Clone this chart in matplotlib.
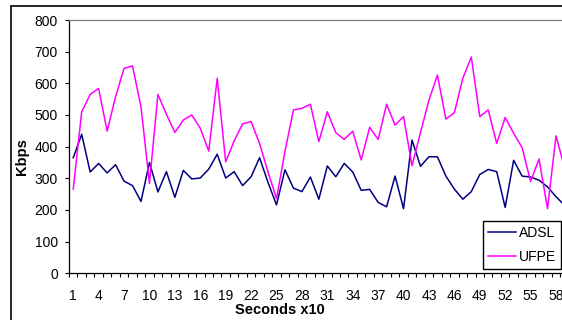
import numpy as np
import matplotlib
matplotlib.use("Agg")
import matplotlib.pyplot as plt
from matplotlib.patches import Rectangle
from matplotlib.ticker import FixedLocator

# Throughput samples, one every 10 seconds
seconds = list(range(1, 60))
adsl = [365, 439, 320, 347, 317, 343, 291, 277, 227, 350,
        257, 321, 240, 325, 298, 301, 329, 376, 301, 321,
        277, 305, 365, 287, 216, 327, 269, 258, 304, 234,
        339, 305, 347, 320, 262, 265, 224, 210, 307, 204,
        421, 338, 368, 368, 307, 266, 234, 258, 312, 328,
        321, 208, 357, 307, 304, 294, 273, 242, 215]
ufpe = [266, 510, 565, 584, 449, 558, 647, 655, 526, 284,
        565, 502, 445, 484, 500, 458, 386, 616, 352, 418,
        472, 479, 410, 320, 236, 385, 516, 521, 534, 416,
        510, 444, 423, 449, 358, 461, 423, 534, 468, 495,
        340, 444, 547, 626, 487, 507, 616, 683, 495, 516,
        410, 492, 442, 397, 290, 361, 204, 434, 335]
x_tick_values = list(range(1, 59, 3))
x_tick_labels = [str(v) for v in x_tick_values]
y_ticks = list(range(0, 801, 100))
series_names = ["ADSL", "UFPE"]
series_colors = ["#000080", "#FF00FF"]

plt.rcParams['font.family'] = ['Liberation Sans', 'DejaVu Sans']

W, H = 562, 320
fig = plt.figure(figsize=(W / 100, H / 100), dpi=100)
fig.patch.set_facecolor("white")

# plot area (extends slightly past the right edge of the canvas)
ax = fig.add_axes([69 / W, (H - 273.3) / H, 499.7 / W, 253.3 / H])
lines = []
for vals, name, col in zip([adsl, ufpe], series_names, series_colors):
    ln, = ax.plot(seconds, vals, color=col, lw=1.1, label=name)
    lines.append(ln)

ax.set_xlim(0.5, 59.5)
ax.set_ylim(0, 800)
ax.set_yticks(y_ticks)
ax.set_xticks(x_tick_values)
ax.set_xticklabels(x_tick_labels)
ax.xaxis.set_minor_locator(FixedLocator(np.arange(0.5, 60, 1)))
ax.tick_params(axis='x', which='major', length=0, pad=11.5, labelsize=10)
ax.tick_params(axis='x', which='minor', length=3, width=0.8, direction='out', color='black')
ax.tick_params(axis='y', length=3, width=0.8, pad=5, labelsize=10, color='black')

ax.spines['left'].set_color('black')
ax.spines['bottom'].set_color('black')
ax.spines['top'].set_color('#808080')
ax.spines['right'].set_color('#808080')
for s in ax.spines.values():
    s.set_linewidth(0.9)

fig.text(22 / W, 1 - 157 / H, "Kbps", rotation=90, ha='center', va='center',
         fontweight='bold', fontsize=10.5)
fig.text(280 / W, 1 - 310 / H, "Seconds x10", ha='center', va='center',
         fontweight='bold', fontsize=10.5)

# chart-area border
fig.patches.append(Rectangle((10.5 / W, -0.1), 2.0, (1 - 6.5 / H) + 0.1,
                             transform=fig.transFigure, fill=False,
                             ec='black', lw=1.2))

leg = ax.legend(handles=lines, loc='upper left',
                bbox_to_anchor=(483 / W, 1 - 221 / H),
                bbox_transform=fig.transFigure, frameon=True, fancybox=False,
                edgecolor='black', framealpha=1, borderaxespad=0,
                handlelength=2.0, handletextpad=0.25, labelspacing=0.75,
                borderpad=0.35, fontsize=10)
leg.get_frame().set_linewidth(1.0)

fig.savefig("out.png", dpi=100)
